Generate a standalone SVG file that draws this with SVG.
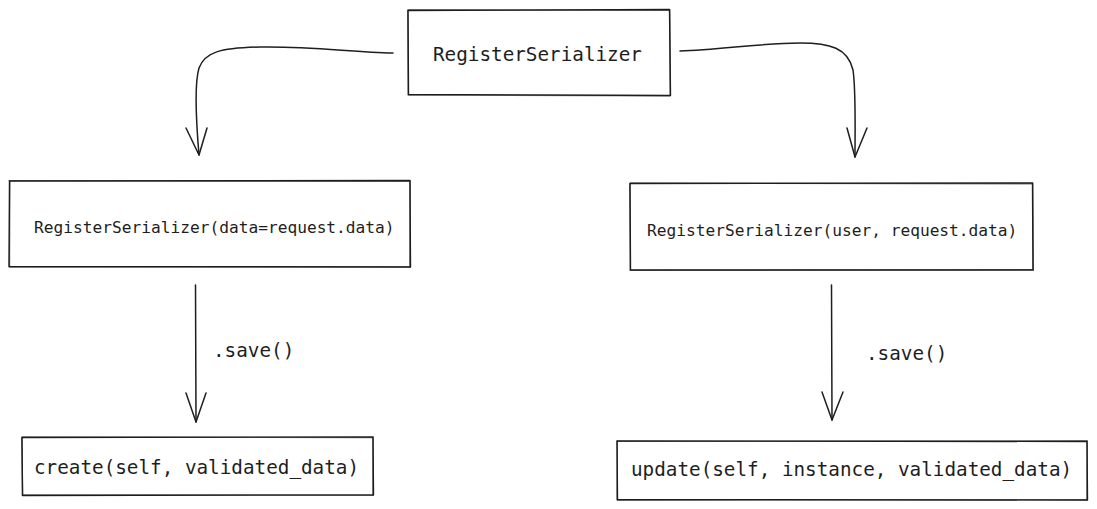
<svg xmlns="http://www.w3.org/2000/svg" width="1097" height="509" viewBox="0 0 1097 509">
<style>
.box{fill:none;stroke:#1e1e1e;stroke-width:1.4;stroke-linecap:round;stroke-linejoin:round}
.edge{fill:none;stroke:#1e1e1e;stroke-width:1.5;stroke-linecap:round;stroke-linejoin:round}
.t{font-family:"DejaVu Sans Mono","Liberation Mono",monospace;fill:#1e1e1e;dominant-baseline:central}
.big{font-size:19.3px}
.small{font-size:16.2px}
</style>
<rect width="1097" height="509" fill="#ffffff"/>
<g id="node-register">
<path class="box" d="M408,10.5 L669.5,9.5 L670.5,95.5 L408.5,94.5 Z"/>
<path class="box" d="M408.5,9.8 L670,10.2 M669.8,10 L670.2,95 M670,95.8 L408,94.8 M408.2,95 L407.8,10" stroke-opacity="0.6"/>
<text class="t big" x="433" y="54">RegisterSerializer</text>
</g>
<g id="node-create-serializer">
<path class="box" d="M9.5,181 L410,180.5 L410.5,267 L9,266.5 Z"/>
<path class="box" d="M9,180.6 L410.3,181.2 M410,181 L409.8,267.3 M410.2,266.8 L9.3,267 M9.5,266.6 L9.8,180.8" stroke-opacity="0.6"/>
<text class="t small" x="34" y="227">RegisterSerializer(data=request.data)</text>
</g>
<g id="node-update-serializer">
<path class="box" d="M630,183.5 L1032.5,183 L1033,270 L630.5,270 Z"/>
<path class="box" d="M630.3,183 L1033,183.8 M1032.8,183.3 L1033.3,270.3 M1032.8,269.6 L630,270.4 M630.3,269.8 L629.8,183.4" stroke-opacity="0.6"/>
<text class="t small" x="647" y="230">RegisterSerializer(user, request.data)</text>
</g>
<g id="node-create">
<path class="box" d="M22,437.5 L373,437 L373.5,495 L22.5,495.5 Z"/>
<path class="box" d="M22.4,437 L373.3,437.6 M373,437.3 L372.8,495.4 M373.2,494.8 L22.2,495 M22.6,495.2 L21.8,437.3" stroke-opacity="0.6"/>
<text class="t big" x="34" y="467">create(self, validated_data)</text>
</g>
<g id="node-update">
<path class="box" d="M617,441 L1087,441.5 L1087.5,500 L617.5,499.5 Z"/>
<path class="box" d="M617.4,441.4 L1087.3,440.8 M1087.2,441.2 L1086.8,500.3 M1087.2,499.8 L617.2,500.2 M617,499.8 L617.3,440.8" stroke-opacity="0.6"/>
<text class="t big" x="631" y="469">update(self, instance, validated_data)</text>
</g>
<g id="connectors">
<path class="edge" d="M393,53 C350,52 310,46 260,47 C220,48 205,52 199,68 C194,85 196,120 199,155"/>
<path class="edge" d="M186,128 L199,155 L207,128"/>
<path class="edge" d="M680,51 C720,50 760,43 800,43 C830,43 848,48 853,70 C856,90 855,130 855,157"/>
<path class="edge" d="M847,128 L855,157 L867,128"/>
<path class="edge" d="M195.5,285 L196,422"/>
<path class="edge" d="M186,393 L196,422 L206,393"/>
<text class="t big" x="213" y="350">.save()</text>
<path class="edge" d="M831.5,285 L832,420"/>
<path class="edge" d="M822,392 L832,420 L843,392"/>
<text class="t big" x="866" y="353">.save()</text>
</g>
</svg>
